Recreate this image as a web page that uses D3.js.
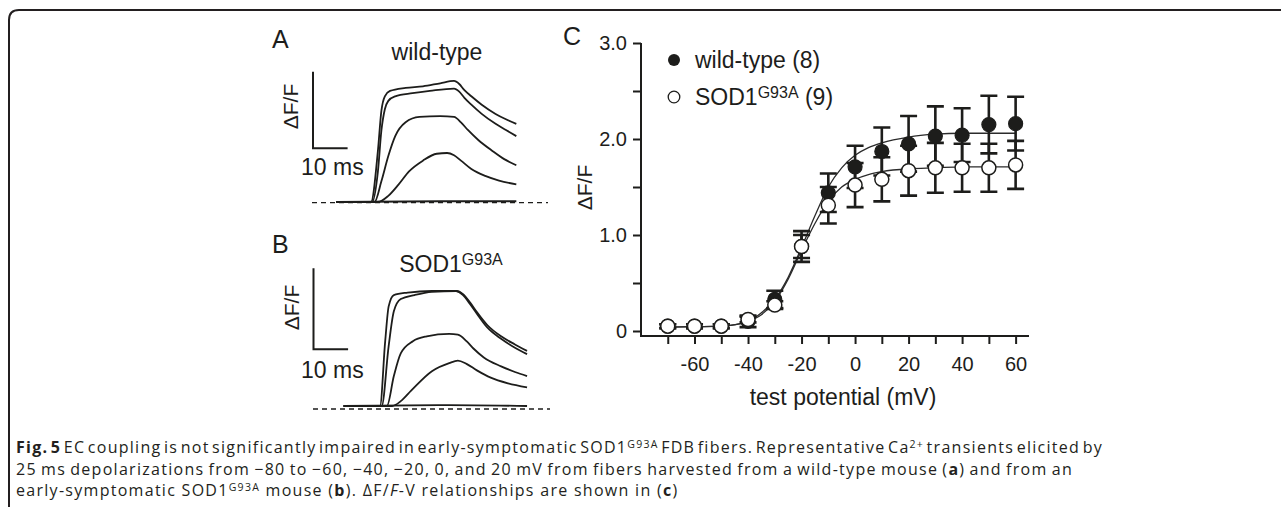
<!DOCTYPE html>
<meta charset="utf-8">
<body style="margin:0;background:#fff">
<script src="https://cdn.jsdelivr.net/npm/d3@7/dist/d3.min.js"></script>
<script>
var width = 1281, height = 507;
var ink = "#1d1d1b";
var font = "'Liberation Sans', Arial, sans-serif";

// ---- panel C: dF/F vs test potential ----
var potentials = [-70, -60, -50, -40, -30, -20, -10, 0, 10, 20, 30, 40, 50, 60];
var wtMean  = [0.05, 0.05, 0.05, 0.10, 0.33, 0.88, 1.44, 1.71, 1.87, 1.95, 2.03, 2.04, 2.15, 2.16];
var wtErr   = [0.02, 0.02, 0.02, 0.06, 0.09, 0.16, 0.20, 0.22, 0.25, 0.29, 0.31, 0.28, 0.30, 0.28];
var sodMean = [0.05, 0.05, 0.05, 0.12, 0.27, 0.88, 1.31, 1.52, 1.58, 1.67, 1.70, 1.70, 1.70, 1.73];
var sodErr  = [0.02, 0.02, 0.02, 0.03, 0.04, 0.12, 0.19, 0.23, 0.23, 0.26, 0.26, 0.25, 0.25, 0.25];
// fitted curves
var fitV   = [-70, -60, -50, -40, -35, -30, -25, -20, -15, -10, -5, 0, 5, 10, 20, 30, 40, 50, 60];
var wtFit  = [0.04, 0.045, 0.05, 0.10, 0.19, 0.33, 0.56, 0.87, 1.20, 1.50, 1.70, 1.83, 1.91, 1.96, 2.02, 2.05, 2.06, 2.06, 2.06];
var sodFit = [0.04, 0.045, 0.05, 0.10, 0.17, 0.31, 0.54, 0.84, 1.12, 1.35, 1.50, 1.58, 1.63, 1.66, 1.69, 1.70, 1.71, 1.71, 1.71];
var xTicks = [-70, -60, -50, -40, -30, -20, -10, 0, 10, 20, 30, 40, 50, 60];
var xTickLabels = ["", "-60", "", "-40", "", "-20", "", "0", "", "20", "", "40", "", "60"];
var yTicks = [0, 0.5, 1, 1.5, 2, 2.5, 3];
var yTickLabels = ["0", "", "1.0", "", "2.0", "", "3.0"];

// ---- panels A and B: Ca transients, [time ms, dF/F] ----
var wtTraces = [
  [[-10, 0], [0, 0], [2, 0.67], [3, 1.19], [4, 1.38], [5.5, 1.45], [10, 1.49], [15, 1.51], [20, 1.55], [24, 1.58],
   [25.5, 1.54], [27, 1.46], [29, 1.38], [32, 1.27], [36, 1.15], [39, 1.08], [42, 1.02]],
  [[-10, 0], [0.3, 0], [2, 0.4], [3, 0.93], [4, 1.21], [5, 1.32], [7, 1.38], [12, 1.42], [17, 1.45], [24, 1.48],
   [25.5, 1.44], [27, 1.36], [29, 1.27], [32, 1.15], [36, 1.02], [39, 0.94], [42, 0.86]],
  [[-10, 0], [1, 0], [3, 0.27], [5, 0.6], [7, 0.86], [10, 1.04], [14, 1.11], [20, 1.12], [24, 1.11],
   [26, 1.04], [28, 0.94], [31, 0.81], [35, 0.67], [38.5, 0.56], [42, 0.48]],
  [[-10, 0], [2, 0], [5, 0.08], [8, 0.23], [11, 0.40], [15, 0.54], [19, 0.63], [22, 0.64], [24, 0.61],
   [26, 0.54], [29, 0.43], [33, 0.34], [37, 0.28], [42, 0.23]],
  [[-10, 0], [20, 0.01], [42, 0.01]]
];
var sodTraces = [
  [[-10.5, 0], [0, 0], [1.5, 0.8], [2.5, 1.23], [4, 1.37], [8, 1.40], [15, 1.42], [22, 1.42], [24, 1.38],
   [26, 1.28], [28, 1.16], [31, 1.00], [35, 0.86], [39, 0.76], [42.5, 0.68]],
  [[-10.5, 0], [0.5, 0], [2.5, 0.74], [4, 1.17], [6, 1.32], [10, 1.37], [15, 1.41], [22, 1.42], [24, 1.37],
   [26, 1.26], [28, 1.14], [31, 0.97], [35, 0.83], [39, 0.72], [42.5, 0.64]],
  [[-10.5, 0], [2, 0], [4, 0.37], [6, 0.65], [9.5, 0.80], [13.5, 0.86], [20, 0.89], [22.5, 0.88], [25, 0.80],
   [27, 0.71], [30, 0.60], [35, 0.49], [39, 0.42], [42.5, 0.37]],
  [[-10.5, 0], [3.5, 0], [6, 0.06], [9, 0.19], [15, 0.43], [20, 0.53], [22.5, 0.56], [25, 0.52], [28, 0.44],
   [32, 0.35], [37, 0.28], [42.5, 0.23]],
  [[-10.5, 0], [20, 0.01], [42.5, 0]]
];

var svg = d3.select("body").append("svg")
  .attr("width", width)
  .attr("height", height);

// frame
svg.append("path")
  .attr("d", "M9,507 V20 Q9,10 19,10 H1281")
  .attr("fill", "none").attr("stroke", "#231f20").attr("stroke-width", 2);

// ---------- trace panels ----------
function tracePanel(traces, o) {
  var g = svg.append("g").attr("font-family", font).attr("fill", ink);
  var tx = d3.scaleLinear().domain([0, 10]).range([o.onset, o.onset + 34.6]);
  var ty = d3.scaleLinear().domain([0, 1]).range([o.base, o.base - o.unit]);

  g.append("text").attr("x", 272).attr("y", o.letterY).attr("font-size", 25).text(o.letter);

  var title = g.append("text").attr("x", o.titleX).attr("y", o.titleY)
    .attr("text-anchor", "middle").attr("font-size", 23);
  title.append("tspan").text(o.title);
  if (o.sup) title.append("tspan").attr("font-size", 16).attr("dy", -7).text(o.sup);

  // dashed zero line
  g.append("line")
    .attr("x1", o.dashX[0]).attr("x2", o.dashX[1])
    .attr("y1", ty(0) + o.dashOff).attr("y2", ty(0) + o.dashOff)
    .attr("stroke", ink).attr("stroke-width", 1.3).attr("stroke-dasharray", "5,4");

  var line = d3.line()
    .x(function (d) { return tx(d[0]); })
    .y(function (d) { return ty(d[1]); })
    .curve(d3.curveMonotoneX);
  g.selectAll("path.trace").data(traces).enter().append("path")
    .attr("class", "trace")
    .attr("d", line)
    .attr("fill", "none").attr("stroke", ink).attr("stroke-width", 1.8)
    .attr("stroke-linejoin", "round");

  // scale bar
  var bx = o.barX, by = o.barY;
  g.append("path")
    .attr("d", "M" + bx + "," + (by - (ty(0) - ty(1))) + "V" + by + "H" + (bx + tx(10) - tx(0)))
    .attr("fill", "none").attr("stroke", ink).attr("stroke-width", 2);
  g.append("text").attr("transform", "translate(" + o.dfX + "," + o.dfY + ") rotate(-90)")
    .attr("text-anchor", "middle").attr("font-size", 21).text("ΔF/F");
  g.append("text").attr("x", 301).attr("y", o.msY).attr("font-size", 23).text("10 ms");
}

tracePanel(wtTraces, {
  letter: "A", letterY: 48, title: "wild-type", titleX: 437, titleY: 60,
  onset: 371, base: 202, unit: 76.6, dashX: [312, 548], dashOff: 0.7,
  barX: 313, barY: 148.3, dfX: 298, dfY: 106.5, msY: 175
});
tracePanel(sodTraces, {
  letter: "B", letterY: 253, title: "SOD1", sup: "G93A", titleX: 451, titleY: 271.5,
  onset: 380, base: 406, unit: 81, dashX: [313, 550], dashOff: 3,
  barX: 313.5, barY: 349.3, dfX: 299, dfY: 307.5, msY: 378
});

// ---------- panel C ----------
var x = d3.scaleLinear().domain([-80, 65]).range([641, 1029]);
var y = d3.scaleLinear().domain([0, 3]).range([331, 43]);
var gC = svg.append("g").attr("font-family", font);

var yAxis = d3.axisLeft(y).tickValues(yTicks).tickSize(8).tickPadding(6)
  .tickFormat(function (d, i) { return yTickLabels[i]; });
var gy = gC.append("g").attr("transform", "translate(641,0)").call(yAxis);
var xAxis = d3.axisBottom(x).tickValues(xTicks).tickSize(8).tickPadding(13)
  .tickFormat(function (d, i) { return xTickLabels[i]; });
var gx = gC.append("g").attr("transform", "translate(0,336)").call(xAxis);
[gy, gx].forEach(function (a) {
  a.select(".domain").remove();
  a.selectAll(".tick line").attr("stroke", ink).attr("stroke-width", 2);
  a.selectAll(".tick text").attr("fill", ink).attr("font-size", 20).attr("font-family", font);
});
gC.append("path")
  .attr("d", "M641," + y(3) + "V336H1029")
  .attr("fill", "none").attr("stroke", ink).attr("stroke-width", 2);

gC.append("text").attr("x", 563).attr("y", 45).attr("font-size", 25).attr("fill", ink).text("C");
gC.append("text").attr("x", 843).attr("y", 405).attr("text-anchor", "middle")
  .attr("font-size", 23).attr("fill", ink).text("test potential (mV)");
gC.append("text").attr("transform", "translate(592,187.5) rotate(-90)")
  .attr("text-anchor", "middle").attr("font-size", 21).attr("fill", ink).text("ΔF/F");

// fitted curves
var fitLine = function (vals) {
  return d3.line()
    .x(function (d, i) { return x(fitV[i]); })
    .y(function (d) { return y(d); })
    .curve(d3.curveMonotoneX)(vals);
};
[wtFit, sodFit].forEach(function (f) {
  gC.append("path").attr("d", fitLine(f))
    .attr("fill", "none").attr("stroke", "#2b2b2b").attr("stroke-width", 1.3);
});

// error bars
function errBars(mean, err) {
  var eb = gC.append("g").attr("stroke", ink).attr("stroke-width", 2.6).attr("fill", "none");
  eb.selectAll("path").data(potentials).enter().append("path")
    .attr("d", function (v, i) {
      var cx = x(v), lo = y(mean[i] - err[i]), hi = y(mean[i] + err[i]);
      return "M" + cx + "," + lo + "V" + hi +
        "M" + (cx - 8.5) + "," + hi + "H" + (cx + 8.5) +
        "M" + (cx - 8.5) + "," + lo + "H" + (cx + 8.5);
    });
}
errBars(wtMean, wtErr);
errBars(sodMean, sodErr);

gC.selectAll("circle.wt").data(potentials).enter().append("circle")
  .attr("class", "wt")
  .attr("cx", function (v) { return x(v); })
  .attr("cy", function (v, i) { return y(wtMean[i]); })
  .attr("r", 7).attr("fill", ink).attr("stroke", ink).attr("stroke-width", 1.2);
gC.selectAll("circle.sod").data(potentials).enter().append("circle")
  .attr("class", "sod")
  .attr("cx", function (v) { return x(v); })
  .attr("cy", function (v, i) { return y(sodMean[i]); })
  .attr("r", 7).attr("fill", "#fff").attr("stroke", ink).attr("stroke-width", 1.5);

// legend
gC.append("circle").attr("cx", 674).attr("cy", 60).attr("r", 6).attr("fill", ink);
gC.append("circle").attr("cx", 674).attr("cy", 97).attr("r", 5.8)
  .attr("fill", "#fff").attr("stroke", ink).attr("stroke-width", 1.3);
gC.append("text").attr("x", 695).attr("y", 68).attr("font-size", 23).attr("fill", ink).text("wild-type (8)");
var lg = gC.append("text").attr("x", 695).attr("y", 105).attr("font-size", 23).attr("fill", ink);
lg.append("tspan").text("SOD1");
lg.append("tspan").attr("font-size", 16).attr("dy", -7).text("G93A");
lg.append("tspan").attr("dy", 7).text(" (9)");

// ---------- caption ----------
var captionLines = [
  [["Fig. 5", "b"], [" EC coupling is not significantly impaired in early-symptomatic SOD1"], ["G93A", "s"],
   [" FDB fibers. Representative Ca"], ["2+", "s"], [" transients elicited by"]],
  [["25 ms depolarizations from \u221280 to \u221260, \u221240, \u221220, 0, and 20 mV from fibers harvested from a wild-type mouse ("],
   ["a", "b"], [") and from an"]],
  [["early-symptomatic SOD1"], ["G93A", "s"], [" mouse ("], ["b", "b"], ["). \u0394F/"], ["F", "i"],
   ["-V relationships are shown in ("], ["c", "b"], [")"]]
];
var captionY = [453, 475, 496];
var captionEnd = [1103, 1073, 707];

var caps = captionLines.map(function (segs, li) {
  var t = svg.append("text").attr("x", 16).attr("y", captionY[li])
    .attr("font-family", "'Open Sans', 'Noto Sans', sans-serif").attr("font-size", 16)
    .attr("fill", "#231f20");
  var shifted = false;
  segs.forEach(function (s) {
    var ts = t.append("tspan").text(s[0]);
    if (s[1] === "b") ts.attr("font-weight", "bold");
    if (s[1] === "i") ts.attr("font-style", "italic");
    if (s[1] === "s") { ts.attr("font-size", 10.5).attr("dy", -5); shifted = true; }
    else if (shifted) { ts.attr("dy", 5); shifted = false; }
  });
  return t;
});
function plain(li) { return captionLines[li].map(function (s) { return s[0]; }).join(""); }
// letter spacing: halfway between fitting line 1 and line 3, then justify lines 1 and 2 with word spacing
var ls1 = (captionEnd[0] - 16 - caps[0].node().getComputedTextLength()) / plain(0).length;
var ls3 = (captionEnd[2] - 16 - caps[2].node().getComputedTextLength()) / plain(2).length;
var ls = (ls1 + ls3) / 2;
caps.forEach(function (t) { t.style("letter-spacing", ls + "px"); });
[0, 1].forEach(function (li) {
  var ws = (captionEnd[li] - 16 - caps[li].node().getComputedTextLength()) / (plain(li).split(" ").length - 1);
  caps[li].style("word-spacing", ws + "px");
});
</script>
</body>
